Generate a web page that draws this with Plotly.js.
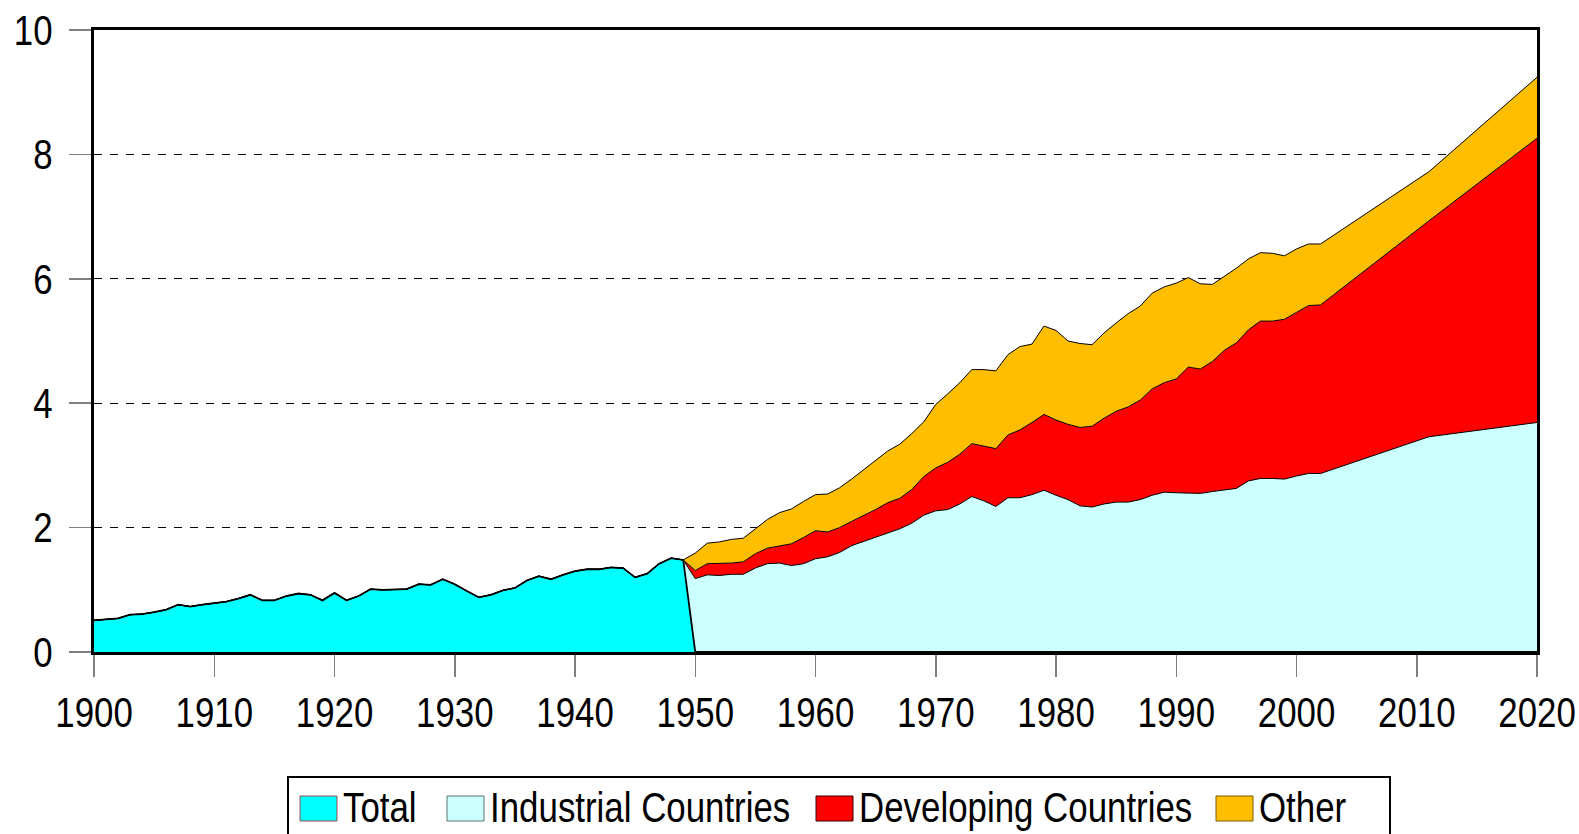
<!DOCTYPE html>
<html>
<head>
<meta charset="utf-8">
<script src="https://cdn.plot.ly/plotly-3.0.1.min.js"></script>
<style>
  html, body { margin: 0; padding: 0; background: #fff; }
  #chart { width: 1579px; height: 834px; }
</style>
</head>
<body>
<div id="chart"></div>
<script>
// ---------- DATA ----------
const earlyYears = [1900,1901,1902,1903,1904,1905,1906,1907,1908,1909,
  1910,1911,1912,1913,1914,1915,1916,1917,1918,1919,
  1920,1921,1922,1923,1924,1925,1926,1927,1928,1929,
  1930,1931,1932,1933,1934,1935,1936,1937,1938,1939,
  1940,1941,1942,1943,1944,1945,1946,1947,1948,1949];

const lateYears = [1950,1951,1952,1953,1954,1955,1956,1957,1958,1959,
  1960,1961,1962,1963,1964,1965,1966,1967,1968,1969,
  1970,1971,1972,1973,1974,1975,1976,1977,1978,1979,
  1980,1981,1982,1983,1984,1985,1986,1987,1988,1989,
  1990,1991,1992,1993,1994,1995,1996,1997,1998,1999,
  2000,2001,2002,2011,2020];

// Total (1900-1949)
const totalValues = [0.51,0.52,0.54,0.60,0.61,0.64,0.68,0.76,0.73,0.76,
  0.79,0.81,0.86,0.92,0.83,0.83,0.90,0.94,0.92,0.83,
  0.95,0.83,0.90,1.01,1.00,1.01,1.01,1.09,1.08,1.17,
  1.09,0.98,0.88,0.92,0.99,1.03,1.15,1.22,1.17,1.24,
  1.30,1.33,1.33,1.36,1.35,1.20,1.26,1.42,1.51,1.48];

// Industrial Countries (1950-2002, 2011, 2020)
const industrialValues = [1.18,1.24,1.23,1.25,1.25,1.35,1.42,1.43,1.39,1.42,
  1.50,1.53,1.60,1.71,1.78,1.85,1.91,1.98,2.07,2.20,
  2.27,2.29,2.38,2.50,2.43,2.34,2.48,2.48,2.53,2.60,
  2.52,2.45,2.35,2.33,2.38,2.41,2.41,2.45,2.52,2.57,
  2.56,2.55,2.55,2.58,2.61,2.63,2.75,2.79,2.79,2.78,
  2.83,2.87,2.87,3.46,3.69];

// Developing Countries
const developingValues = [0.13,0.18,0.19,0.18,0.20,0.23,0.25,0.27,0.35,0.42,
  0.45,0.40,0.40,0.39,0.41,0.44,0.49,0.49,0.54,0.62,
  0.69,0.76,0.80,0.85,0.88,0.93,1.01,1.09,1.16,1.22,
  1.21,1.21,1.26,1.30,1.38,1.46,1.53,1.60,1.71,1.76,
  1.83,2.03,2.00,2.09,2.24,2.34,2.43,2.53,2.53,2.57,
  2.63,2.70,2.71,3.47,4.57];

// Other
const otherValues = [0.28,0.33,0.35,0.38,0.38,0.40,0.46,0.54,0.56,0.58,
  0.58,0.61,0.64,0.68,0.74,0.78,0.83,0.87,0.90,0.88,
  1.02,1.10,1.15,1.19,1.23,1.25,1.29,1.34,1.26,1.42,
  1.44,1.34,1.35,1.31,1.37,1.42,1.50,1.51,1.54,1.54,
  1.54,1.44,1.37,1.24,1.19,1.20,1.14,1.10,1.09,1.02,
  1.02,0.99,0.98,0.79,0.98];

const seriesNames = ['Total','Industrial Countries','Developing Countries','Other'];
const seriesColors = ['#00FFFF','#CCFFFF','#FF0000','#FFBF00'];
const swatchBorders = ['#9a4a4a','#5c7272','#3a0000','#7a5c00'];

const xTicks = [1900,1910,1920,1930,1940,1950,1960,1970,1980,1990,2000,2010,2020];
const yTicks = [0,2,4,6,8,10];

// ---------- BUILD ----------
const allYears = earlyYears.concat(lateYears);
const zerosEarly = earlyYears.map(() => 0);
const zerosLate = lateYears.map(() => 0);

const ys = [
  totalValues.concat(zerosLate),
  zerosEarly.concat(industrialValues),
  zerosEarly.concat(developingValues),
  zerosEarly.concat(otherValues)
];

const traces = ys.map((y, i) => ({
  type: 'scatter',
  mode: 'lines',
  x: allYears,
  y: y,
  name: seriesNames[i],
  stackgroup: 'one',
  fillcolor: seriesColors[i],
  line: { color: '#000', width: i === 0 ? 1.8 : 1 },
  hoverinfo: 'skip',
  showlegend: false
}));

const FONT = '"Liberation Sans", Arial, sans-serif';
const FS = 42;
const SQUEEZE = 0.83;   // narrow-face look

// pixel -> paper helpers (plot area: x 94..1537, y 30..652)
const PL = 94, PR = 1537, PT = 30, PB = 652;
const PX = x => (x - PL) / (PR - PL);
const PY = y => (PB - y) / (PB - PT);

const shapes = [{
  type: 'rect', xref: 'paper', yref: 'paper',
  x0: PX(288), x1: PX(1390), y0: PY(777), y1: PY(850),
  line: { color: '#000', width: 2 }, fillcolor: 'rgba(0,0,0,0)'
}];
const annotations = [];
const swatchX = [300, 447, 816, 1216];
seriesNames.forEach((n, i) => {
  shapes.push({
    type: 'rect', xref: 'paper', yref: 'paper',
    x0: PX(swatchX[i]), x1: PX(swatchX[i] + 37), y0: PY(796), y1: PY(821),
    fillcolor: seriesColors[i], line: { color: swatchBorders[i], width: 1 }
  });
  annotations.push({
    xref: 'paper', yref: 'paper', x: PX(swatchX[i] + 41), y: PY(807),
    xanchor: 'left', yanchor: 'middle', showarrow: false,
    text: n, font: { family: FONT, size: FS, color: '#000' }
  });
});

const layout = {
  width: 1579, height: 834,
  margin: { l: PL, r: 1579 - PR, t: PT, b: 834 - PB, pad: 0 },
  paper_bgcolor: '#fff', plot_bgcolor: '#fff',
  showlegend: false,
  font: { family: FONT, size: FS, color: '#000' },
  xaxis: {
    range: [1900, 2020], tickmode: 'array', tickvals: xTicks,
    ticks: 'outside', ticklen: 22, tickwidth: 1.5, tickcolor: '#808080',
    showgrid: false, zeroline: false,
    showline: true, linecolor: '#000', linewidth: 3, mirror: true,
    tickfont: { family: FONT, size: FS, color: '#000' },
    ticklabelstandoff: 0, ticklabeloverflow: 'allow'
  },
  yaxis: {
    range: [0, 10], tickmode: 'array', tickvals: yTicks,
    ticks: 'outside', ticklen: 22, tickwidth: 1.5, tickcolor: '#808080',
    showgrid: true, gridcolor: '#000', gridwidth: 1.1, griddash: '8px,8px',
    zeroline: false,
    showline: true, linecolor: '#000', linewidth: 3, mirror: true,
    tickfont: { family: FONT, size: FS, color: '#000' },
    ticklabelstandoff: 8, ticklabeloverflow: 'allow'
  },
  shapes: shapes,
  annotations: annotations
};

Plotly.newPlot('chart', traces, layout, { displayModeBar: false, staticPlot: true }).then(gd => {
  const squeeze = (el, mode) => {
    const bb = el.getBBox();
    const ox = mode === 'left' ? bb.x : (mode === 'right' ? bb.x + bb.width : bb.x + bb.width / 2);
    const t = el.getAttribute('transform') || '';
    el.setAttribute('transform', t + ' translate(' + ox + ',0) scale(' + SQUEEZE + ',1) translate(' + (-ox) + ',0)');
  };
  gd.querySelectorAll('.xtick text').forEach(el => squeeze(el, 'center'));
  gd.querySelectorAll('.ytick text').forEach(el => squeeze(el, 'right'));
  gd.querySelectorAll('text.annotation-text').forEach(el => squeeze(el, 'left'));
});
</script>
</body>
</html>
